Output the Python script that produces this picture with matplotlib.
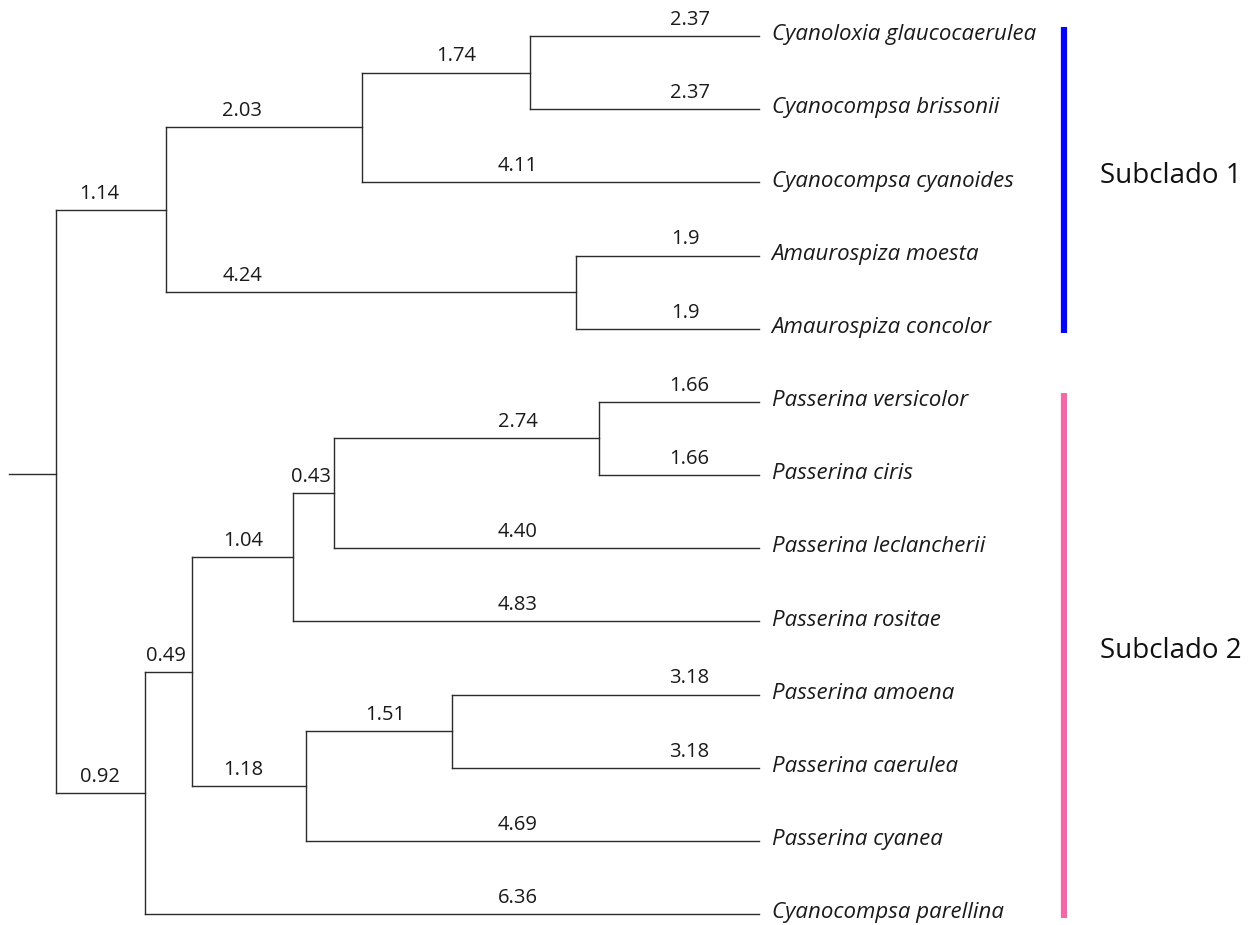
import matplotlib.pyplot as plt

# tree as parent table; branch lengths kept as the printed strings
nodes = ["root", "A", "A1", "A11", "t0", "t1", "t2", "A2", "t3", "t4",
         "B", "B1", "B11", "B111", "B1111", "t5", "t6", "t7", "t8",
         "B12", "B121", "t9", "t10", "t11", "t12"]
parents = [None, "root", "A", "A1", "A11", "A11", "A1", "A", "A2", "A2",
           "root", "B", "B1", "B11", "B111", "B1111", "B1111", "B111", "B11",
           "B1", "B12", "B121", "B121", "B12", "B"]
lengths = ["0", "1.14", "2.03", "1.74", "2.37", "2.37", "4.11", "4.24", "1.9", "1.9",
           "0.92", "0.49", "1.04", "0.43", "2.74", "1.66", "1.66", "4.40", "4.83",
           "1.18", "1.51", "3.18", "3.18", "4.69", "6.36"]

tip_ids = ["t0", "t1", "t2", "t3", "t4", "t5", "t6", "t7", "t8", "t9", "t10", "t11", "t12"]
tip_names = ["Cyanoloxia glaucocaerulea", "Cyanocompsa brissonii", "Cyanocompsa cyanoides",
             "Amaurospiza moesta", "Amaurospiza concolor", "Passerina versicolor",
             "Passerina ciris", "Passerina leclancherii", "Passerina rositae",
             "Passerina amoena", "Passerina caerulea", "Passerina cyanea",
             "Cyanocompsa parellina"]

subclades = ["Subclado 1", "Subclado 2"]
subclade_first = ["t0", "t5"]
subclade_last = ["t4", "t12"]

# layout: where each branch label sits along x (tree units)
label_x = {"A": 0.45, "A1": 1.93, "A11": 4.14, "t0": 6.56, "t1": 6.56, "t2": 4.78,
           "A2": 1.93, "t3": 6.52, "t4": 6.52, "B": 0.45, "B1": 1.14, "B11": 1.94,
           "B111": 2.64, "B1111": 4.78, "t5": 6.56, "t6": 6.56, "t7": 4.78, "t8": 4.78,
           "B12": 1.94, "B121": 3.41, "t9": 6.56, "t10": 6.56, "t11": 4.78, "t12": 4.78}
stub_len, stub_y = 0.49, 5.99
bar_colors = ["#0505f5", "#f06aa8"]
bar_x, text_x = 10.44, 10.81
line_col = "#2b2b2b"

plt.rcParams["font.family"] = ["Open Sans", "DejaVu Sans"]

parent_of = dict(zip(nodes, parents))
blen = {n: float(s) for n, s in zip(nodes, lengths)}
blab = dict(zip(nodes, lengths))
children = {n: [c for c, p in zip(nodes, parents) if p == n] for n in nodes}

xpos = {}
for n in nodes:
    p = parent_of[n]
    xpos[n] = 0.0 if p is None else xpos[p] + blen[n]

ypos = {t: i for i, t in enumerate(tip_ids)}


def node_y(n):
    if n not in ypos:
        ys = [node_y(c) for c in children[n]]
        ypos[n] = (min(ys) + max(ys)) / 2
    return ypos[n]


node_y("root")

fig = plt.figure(figsize=(12.53, 9.25), dpi=100)
ax = fig.add_axes([0, 0, 1, 1])
ax.set_xlim(-0.58, 12.395)
ax.set_ylim(12.15, -0.492)
ax.axis("off")

lw = 1.0
for n in nodes:
    p = parent_of[n]
    if p is not None:
        ax.plot([xpos[p], xpos[n]], [ypos[n], ypos[n]], color=line_col, lw=lw,
                solid_capstyle="projecting")
        ax.annotate(blab[n], (label_x[n], ypos[n]), xytext=(0, 8),
                    textcoords="offset points", ha="center", va="baseline",
                    fontsize=14.5, color="#1a1a1a")
    if children[n]:
        ys = [ypos[c] for c in children[n]]
        ax.plot([xpos[n], xpos[n]], [min(ys), max(ys)], color=line_col, lw=lw,
                solid_capstyle="projecting")

# root stub
ax.plot([-stub_len, 0], [stub_y, stub_y], color=line_col, lw=lw)

for t, name in zip(tip_ids, tip_names):
    ax.annotate(name, (xpos[t], ypos[t]), xytext=(9, -3), textcoords="offset points",
                ha="left", va="baseline", fontsize=16, style="italic", color="#1a1a1a")

for name, a, b, col in zip(subclades, subclade_first, subclade_last, bar_colors):
    y0, y1 = ypos[a] - 0.12, ypos[b] + 0.06
    ax.plot([bar_x, bar_x], [y0, y1], color=col, lw=4.5, solid_capstyle="butt")
    ax.text(text_x, (y0 + y1) / 2 - 0.06, name, ha="left", va="center",
            fontsize=20, color="#111111")

fig.savefig("out.png", dpi=100)
